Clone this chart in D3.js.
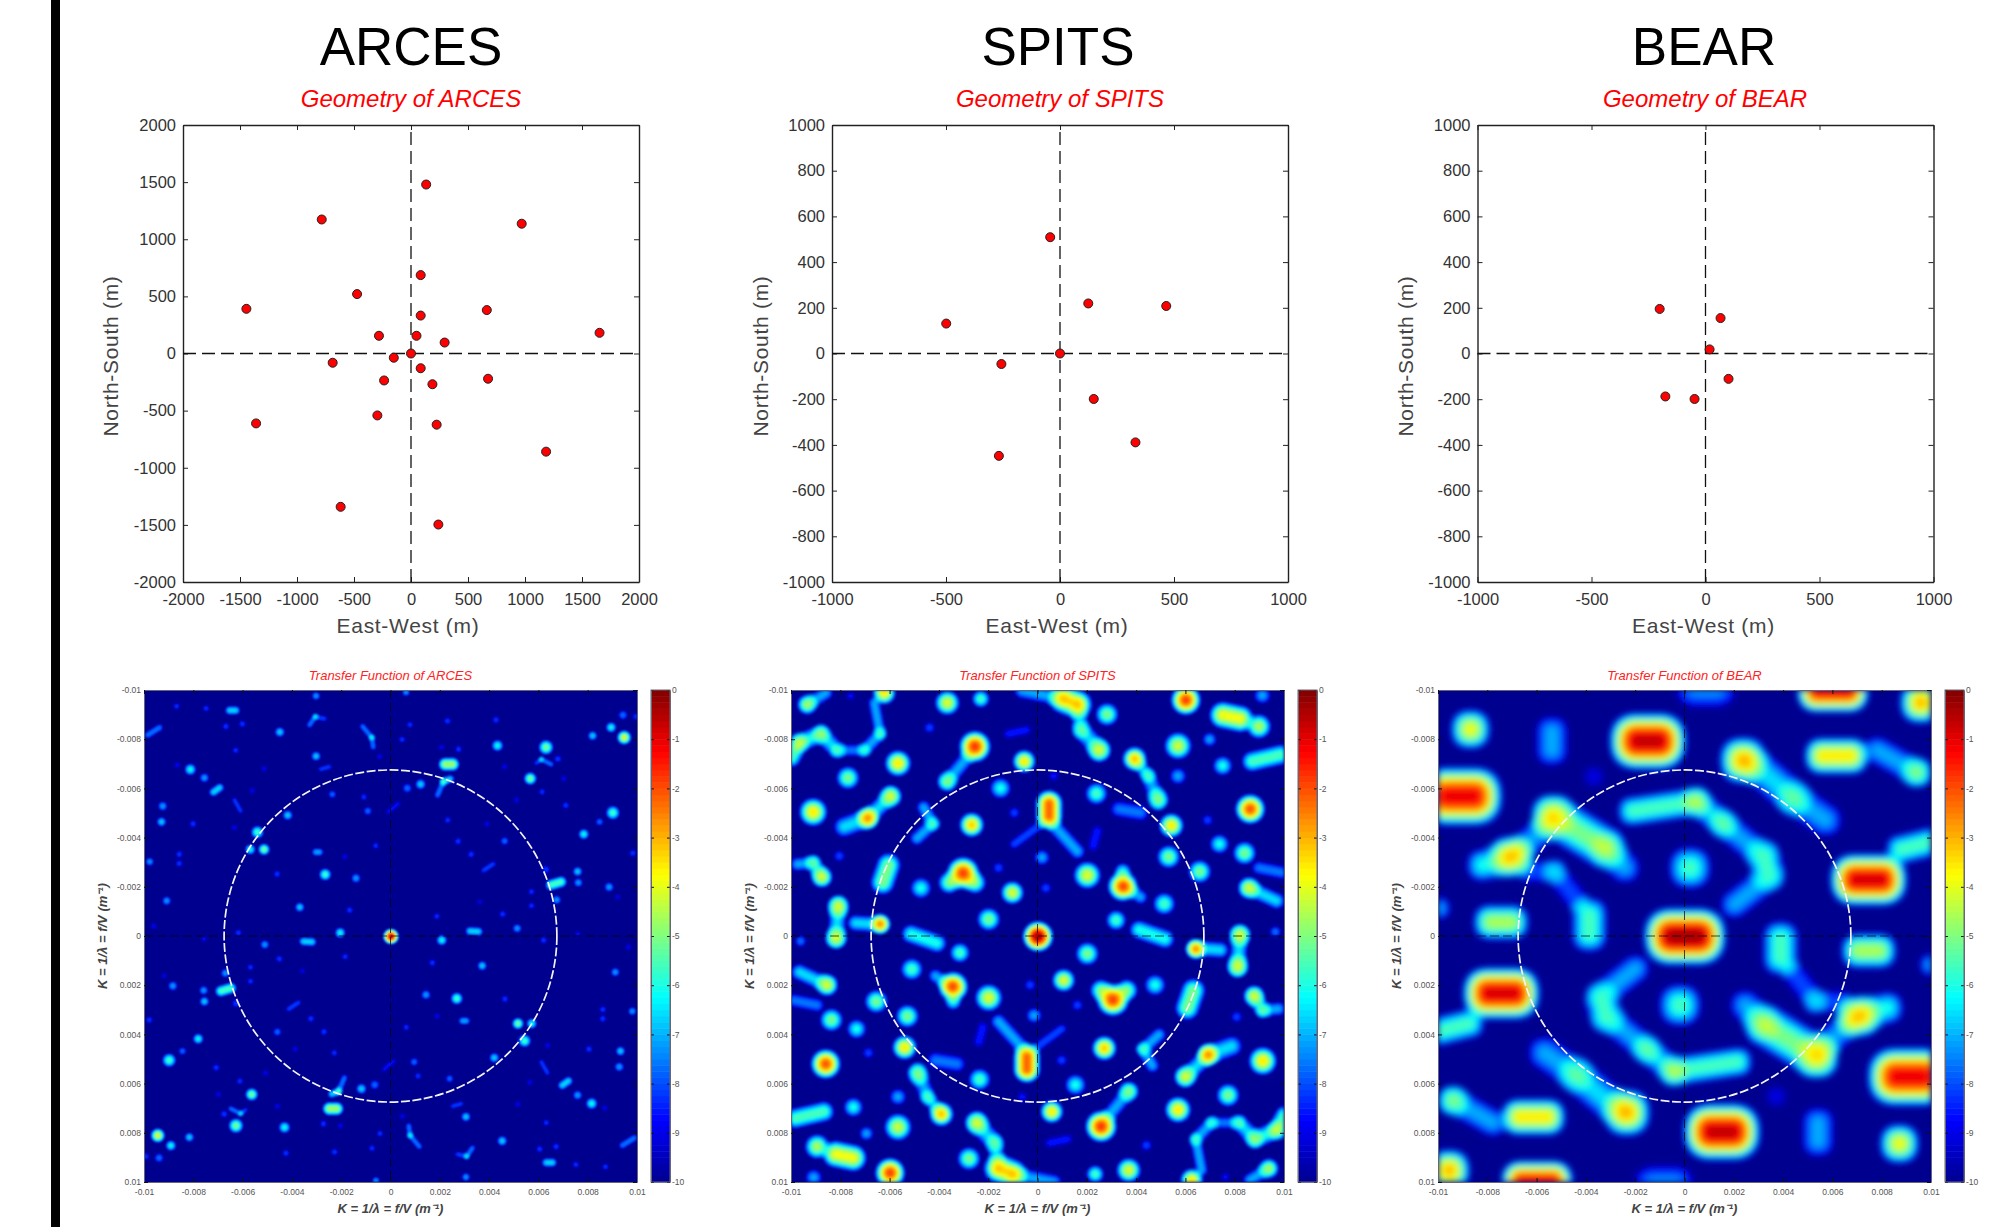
<!DOCTYPE html>
<html>
<head>
<meta charset="utf-8">
<style>
    body { margin: 0; background: #fff; font-family: "Liberation Sans", Arial, sans-serif; }
    svg { display: block; }
    .tick line { stroke: #222; }
    .geo .tick text { font-size: 16.5px; fill: #333; }
    .geo .domain { stroke: #222; stroke-width: 1.4; fill: none; }
    .heat .tick text { font-size: 8.5px; fill: #555; }
    .heat .domain { stroke: #667; stroke-width: 1; fill: none; }
    .heat .tick line { stroke: #111; }
</style>
</head>
<body>
<svg id="viz" width="2004" height="1227"></svg>

<script src="https://cdnjs.cloudflare.com/ajax/libs/d3/7.8.5/d3.min.js"></script>
<script>
// station coordinates, metres [east, north]
var arcesStations = [[133,1479],[-783,1173],[971,1136],[85,686],[-473,520],[-1444,391],[665,380],[85,332],[1654,181],[-281,155],[48,155],[295,96],[0,0],[-151,-37],[-687,-81],[85,-129],[-236,-236],[188,-269],[676,-221],[-295,-542],[225,-623],[-1359,-612],[1185,-859],[-617,-1342],[240,-1497]];
var spitsStations = [[-43,509],[124,219],[466,208],[-499,131],[0,0],[-257,-46],[148,-199],[331,-389],[-268,-448]];
var bearStations = [[-201,195],[66,155],[18,18],[101,-111],[-176,-188],[-48,-199]];

var arcesTicks = [-2000,-1500,-1000,-500,0,500,1000,1500,2000];
var kiloTicksX = [-1000,-500,0,500,1000];
var kiloTicksY = [-1000,-800,-600,-400,-200,0,200,400,600,800,1000];

// wavenumber axes, labelled in 1/m; the peaks below are in units of 0.001 1/m
var kTicks = [-10,-8,-6,-4,-2,0,2,4,6,8,10];
var kLabels = ["-0.01","-0.008","-0.006","-0.004","-0.002","0","0.002","0.004","0.006","0.008","0.01"];
var dbTicks = [0,-1,-2,-3,-4,-5,-6,-7,-8,-9,-10];
var dbLevels = d3.range(-10, 0, 0.125);
var circleRadius = 6.75;

// A transfer function is point symmetric around k=0, so only the upper half plane is listed.
// spots: [kx, ky, peak dB, radius]   ridges: [kx1, ky1, kx2, ky2, peak dB, radius]
var arcesMain = [[0,0,0,0,-0.6,0.27]];
var arcesSpots = [
    [9.46,-8.09,-4,.25],[8.93,-8.5,-6,.18],[9.41,-9,-7.5,.16],[8.18,-8.16,-6.5,.16],[6.29,-7.69,-5,.26],[5.65,-6.42,-5,.22],
    [4.32,-7.76,-6,.2],[9,-5.03,-5.5,.24],[8.46,-4.66,-7.5,.13],[7.82,-4.16,-6,.18],[7.57,-2.64,-6.5,.16],[7.6,-2.19,-7,.15],
    [6.72,-1.49,-7,.15],[8.85,-2.01,-7,.16],[6.29,-2.72,-8,.14],[1.2,-6.19,-6.5,.18],[.66,-6.03,-7.5,.16],[-2.38,-5.78,-7.5,.13],
    [-.94,-5.1,-7.5,.14],[-4.19,-4.93,-6.5,.17],[-5.42,-4.24,-5.5,.22],[-5.71,-3.54,-6,.18],[-5.15,-3.54,-5,.2],[-9.31,-4.66,-6.5,.16],
    [-9.26,-5.3,-7,.16],[-8.14,-6.79,-6,.2],[-7.57,-6.45,-7,.16],[-3.04,-7.33,-6.5,.16],[-4.51,-8.31,-6.5,.17],[-3.04,-9.78,-7,.14],
    [-2.67,-2.52,-5.5,.21],[-1.42,-2.37,-7,.16],[-3.7,-1.19,-6.5,.16],[-1.68,-1.07,-8,.12],[-2.06,-.15,-6,.18],[-9.1,-1.45,-7,.15],
    [5.12,-.33,-7,.15],[1.86,-.82,-8,.11],[4.53,-.91,-8,.12],[4.61,-3.88,-7.5,.14],[2.72,-3.87,-8,.12],[2.3,-4.73,-8,.11],
    [3.25,-3.34,-8,.12],[5.7,-1.82,-8,.11],[5.7,-1.25,-8,.11],[-6.19,-.15,-8,.12],[-9.79,-3.04,-7,.14],[-8.59,-2.97,-8,.12],
    [-8.59,-3.34,-8,.12],[-4.62,-2.54,-8,.12],[-.62,-3.69,-8,.11],[-1.87,-3.24,-8.5,.1],[9.81,-3.39,-8,.12],[7.09,-5.33,-8,.12],
    [6.13,-5.88,-8,.11],[5.09,-5.55,-8.5,.1],[3.89,-4.58,-8.5,.1],[7,-6.42,-8.5,.1],[6.77,-7.22,-8,.13],[4.61,-6.9,-8.5,.1],
    [2.74,-7.61,-8,.12],[2.05,-7.69,-8.5,.1],[2.29,-8.76,-8,.12],[4.26,-8.81,-8,.12],[.77,-8.61,-8,.11],[.45,-8.01,-8,.11],
    [.61,-9.93,-7,.13],[-.46,-7.31,-8.5,.1],[-5.15,-6.82,-8.5,.1],[-6.3,-7.57,-8,.11],[-6.03,-8.64,-8,.12],[-6.7,-8.54,-8,.12],
    [-7.5,-9.27,-8,.11],[-8.7,-9.36,-8,.11],[-8.67,-6.97,-8.5,.1],[-5.63,-5.93,-8.5,.1],[-1.1,-5.67,-8,.11],[-8.03,-4.58,-8,.12],
    [-6.35,-4.43,-8.5,.1],[9.94,-8.94,-8,.12],[-9.63,-.43,-8.5,.1],[7.58,-.1,-8.5,.1],[9.2,-1.6,-8.7,.1],[3.6,-1.4,-8.7,.1]
];
var arcesRidges = [
    [2.2,-7,2.5,-7,-4.6,.24],[6.5,-2.1,6.9,-2.22,-5.5,.2],[2.13,-6.3,1.89,-5.75,-7.5,.11],[2.13,-6.3,2.4,-6.4,-6.5,.14],
    [-7.2,-5.87,-6.95,-6.05,-6.5,.15],[-6.55,-9.19,-6.3,-9.19,-6.5,.15],[-9.87,-8.19,-9.39,-8.49,-7.5,.12],[-1.15,-8.54,-.78,-8.09,-7.5,.1],
    [-.78,-8.09,-.72,-7.7,-7.5,.1],[-3.05,-3.43,-2.9,-3.43,-7,.13],[3.2,-.22,3.55,-.2,-6.5,.15],[-.11,-5.06,.29,-5.4,-8.5,.08],
    [-3.3,-8.6,-3.07,-8.94,-7.5,.1],[-3.07,-8.94,-2.7,-8.85,-8,.09],[3.76,-2.69,4.15,-2.95,-8,.09],[-6.35,-5.55,-6.1,-5.1,-8,.08],
    [-2.85,-6.8,-2.5,-6.9,-8,.08],[6.5,-7,6.1,-7.2,-7.5,.09],[6.1,-7.2,5.9,-7.05,-8,.08]
];

var spitsMain = [[0,0,0,0,-0.3,.56]];
var spitsSpots = [
    [6,-9.61,-1.8,.55],[2.8,-9.03,-5,.42],[5.68,-7.75,-4.2,.5],[6.96,-8.01,-7,.25],[8.96,-8.54,-4.5,.45],[9.1,-9.8,-7,.3],
    [7.49,-6.94,-6,.35],[5.68,-6.52,-7,.3],[3.92,-7.22,-3.5,.45],[8.61,-5.18,-2,.55],[5.41,-4.51,-3.5,.45],[5.3,-3.24,-5,.42],
    [2.37,-5.81,-5.5,.4],[.64,-6.52,-8.5,.18],[.16,-3.21,-7,.28],[-.56,-7.12,-3.5,.42],[-1.52,-6.03,-6,.38],[-2.56,-7.72,-1.7,.58],
    [-5.68,-7.04,-3.5,.48],[-7.71,-6.45,-5,.42],[-9.12,-5.06,-3.5,.52],[-6.91,-4.81,-3.5,.42],[-2.69,-4.54,-3.2,.45],[-.96,-5.03,-8,.2],
    [-3.04,-2.57,-1.8,.6],[-3.6,-2.19,-5,.4],[-2.56,-2.19,-5,.4],[3.44,-2.04,-2,.55],[3.44,-2.64,-6,.3],[2,-2.49,-4,.5],
    [-1.6,-2.79,-8,.2],[.32,-1.97,-8,.2],[-1.04,-1.78,-4,.42],[-4.75,-1.97,-6,.38],[-2,-.7,-5,.42],[3.17,-.66,-5.5,.36],
    [5.12,-1.33,-5.5,.4],[6.56,-2.64,-5,.42],[8.56,-1.97,-5,.42],[8.38,-3.39,-5,.42],[7.36,-3.76,-6,.35],[6.88,-4.73,-8,.2],
    [-8.06,-3.27,-8,.2],[-8.77,-2.42,-5,.4],[-6.4,-.51,-3,.38],[9.63,-.19,-7.5,.2],[-9.36,-9.43,-5.5,.38],[-6.24,-9.9,-3.5,.42],
    [-3.68,-9.5,-4,.45],[-2.32,-9.66,-5.5,.32],[-4.4,-8.49,-8,.2],[-7.6,-9.78,-8.5,.15],
    [2.48,-7.57,-5,.45],[4.88,-5.6,-6,.4],[-3.68,-6.3,-6,.38],[-5.98,-5.7,-5,.42],[-8.1,-1.2,-5,.42],[-8.19,.05,-5,.42]
];
var spitsRidges = [
    [1.04,-9.66,1.6,-9.43,-3.5,.55],[-.64,-10,1.04,-9.66,-7,.3],[1.6,-9.43,1.76,-8.39,-7,.3],[1.76,-8.39,2.48,-7.6,-6.5,.36],
    [7.5,-9,8.2,-8.85,-3.8,.5],[3.92,-7.22,4.48,-6.52,-7,.25],[4.48,-6.52,4.88,-5.48,-7,.3],[8.69,-7.12,9.84,-7.39,-5.5,.38],
    [3.28,-5.18,4.16,-5.03,-7.5,.3],[.45,-5.4,.45,-4.9,-2.2,.5],[.64,-4.51,1.6,-3.46,-7,.28],[-2.88,-7.27,-3.68,-6.3,-7,.28],
    [-7.86,-4.46,-6.91,-4.81,-6.5,.38],[-6.91,-4.81,-5.98,-5.7,-6.5,.32],[-4.64,-5.25,-4.27,-4.58,-7,.25],[-4.27,-4.58,-4.91,-3.99,-7,.25],
    [-.96,-3.76,.16,-4.58,-8,.18],[2.4,-4.28,2.24,-3.69,-8.5,.2],[3.6,-2,4.16,-1.6,-7,.25],[8.56,-1.97,9.68,-1.45,-6.5,.3],
    [8.96,-2.79,9.9,-2.6,-7.5,.25],[-6.06,-2.9,-6.3,-2.2,-5,.45],[-9.76,-2.94,-9.12,-3,-7,.25],[-9.12,-3,-8.77,-2.42,-6.5,.3],
    [-8.1,-1.3,-8.19,.1,-6.5,.32],[-7.4,-.55,-6.4,-.48,-6.5,.3],[-5.15,-.1,-4.1,.27,-6,.35],[-10,-7.27,-9.68,-7.87,-5.5,.35],
    [-9.68,-7.87,-8.8,-8.24,-6,.35],[-8.8,-8.24,-8.16,-7.57,-6.5,.32],[-8.16,-7.57,-7.04,-7.57,-7.5,.22],[-7.04,-7.57,-6.4,-8.24,-7,.25],
    [-6.4,-8.24,-6.64,-9.49,-7,.22],[-9.36,-9.43,-8.6,-9.9,-7,.25],[-1.2,-8.24,-.48,-8.39,-8.5,.18]
];

var bearMain = [[-.5,0,.5,0,-.3,1.15]];
var bearSpots = [
    [-8.7,-8.42,-3.8,.8],[2.36,-7.16,-3,.95],[9.4,-6.67,-6,.6],[-7.08,-3.24,-3.7,.85],[-5.33,-4.88,-5,.85],
    [.2,-2.79,-5.5,.85],[-9.97,-1.15,-7,.45],[-3.7,-6.5,-9,.45],[9.57,-9.51,-3,.85]
];
var bearRidges = [
    [-1.9,-7.94,-1.1,-7.94,-.6,1.15],[-9.6,-5.7,-8.6,-5.7,-1,1.18],[6.95,-2.31,7.95,-2.31,-.8,1.05],[5.4,-9.96,6.6,-9.96,-1.3,.85],
    [-5.4,-8.3,-5.4,-7.6,-7,.65],[3,-6.82,4.4,-5.63,-6.5,.7],[4.4,-5.63,5.7,-4.73,-7,.65],[5.6,-7.34,6.7,-7.34,-3.5,.75],
    [7.8,-7.57,9.4,-6.67,-7,.55],[-7.86,-.58,-7.06,-.58,-4.5,.72],[-3.88,-.85,-3.88,-.1,-5.5,.72],[-8.2,-2.9,-6.8,-3.3,-6,.65],
    [-6.5,-3.7,-5.6,-4.5,-7,.55],[-5.33,-4.88,-3.25,-3.61,-5,.85],[-3.25,-3.61,-2.44,-2.79,-7,.6],[-6.3,-2.64,-5.3,-2.64,-8,.45],
    [-5.3,-2.64,-4.36,-1.45,-8,.45],[-2.12,-5.1,.44,-5.48,-5.5,.6],[.44,-5.5,1.56,-4.58,-6.5,.55],[1.56,-4.58,3.2,-3.24,-7,.55],
    [3.2,-3.24,3.4,-2.6,-7,.7],[3.4,-2.4,2,-1.3,-7,.55],[.5,-10.2,1.2,-10.2,-7,.9],[8.76,-3.54,9.96,-3.84,-5.5,.6]
];

var svg = d3.select("#viz");
svg.append("defs");

// left border bar
svg.append("rect").attr("x", 51).attr("y", 0).attr("width", 9).attr("height", 1227).attr("fill", "#000");

var jet = d3.scaleLinear()
    .domain([-10, -8.75, -6.25, -3.75, -1.25, 0])
    .range(["#00008f", "#0000ff", "#00ffff", "#ffff00", "#ff0000", "#800000"])
    .clamp(true);

function geometryPanel(name, stations, left, xTicks, yTicks, centers) {
    var right = left + 456, top = 125, bottom = 582;
    var domainMax = xTicks[xTicks.length - 1];
    var x = d3.scaleLinear().domain([-domainMax, domainMax]).range([left, right]);
    var y = d3.scaleLinear().domain([-domainMax, domainMax]).range([bottom, top]);
    var g = svg.append("g").attr("class", "geo");

    g.append("text").text(name)
        .attr("x", centers.title).attr("y", 65)
        .attr("text-anchor", "middle").attr("font-size", 53).attr("fill", "#000");
    g.append("text").text("Geometry of " + name)
        .attr("x", centers.sub).attr("y", 107)
        .attr("text-anchor", "middle").attr("font-size", 24).attr("font-style", "italic").attr("fill", "#f00");

    g.append("g").attr("transform", "translate(0," + bottom + ")")
        .call(d3.axisBottom(x).tickValues(xTicks).tickSizeInner(-5).tickSizeOuter(0).tickPadding(11).tickFormat(String));
    g.append("g").attr("transform", "translate(" + left + ",0)")
        .call(d3.axisLeft(y).tickValues(yTicks).tickSizeInner(-5).tickSizeOuter(0).tickPadding(7).tickFormat(String));
    g.append("g").attr("transform", "translate(0," + top + ")")
        .call(d3.axisTop(x).tickValues(xTicks).tickSizeInner(-5).tickSizeOuter(0).tickFormat(""));
    g.append("g").attr("transform", "translate(" + right + ",0)")
        .call(d3.axisRight(y).tickValues(yTicks).tickSizeInner(-5).tickSizeOuter(0).tickFormat(""));

    g.append("line").attr("x1", x(-domainMax)).attr("x2", x(domainMax)).attr("y1", y(0)).attr("y2", y(0))
        .attr("stroke", "#111").attr("stroke-width", 1.3).attr("stroke-dasharray", "13,6");
    g.append("line").attr("y1", y(-domainMax)).attr("y2", y(domainMax)).attr("x1", x(0)).attr("x2", x(0))
        .attr("stroke", "#111").attr("stroke-width", 1.3).attr("stroke-dasharray", "13,6");

    g.selectAll("circle").data(stations).join("circle")
        .attr("cx", function(d) { return x(d[0]); })
        .attr("cy", function(d) { return y(d[1]); })
        .attr("r", 4.5)
        .attr("fill", "#f00")
        .attr("stroke", "#222")
        .attr("stroke-width", 1);

    g.append("text").text("East-West (m)")
        .attr("x", centers.east).attr("y", 633)
        .attr("text-anchor", "middle").attr("font-size", 21).attr("letter-spacing", 0.7).attr("fill", "#444");
    g.append("text").text("North-South (m)")
        .attr("transform", "translate(" + centers.north + ",356) rotate(-90)")
        .attr("text-anchor", "middle").attr("font-size", 21).attr("letter-spacing", 0.7).attr("fill", "#444");
}

function transferPanel(name, main, spots, ridges, left, look) {
    var right = left + 493, top = 690, bottom = 1182;
    var w = right - left, h = bottom - top;
    var x = d3.scaleLinear().domain([-10, 10]).range([left, right]);
    var y = d3.scaleLinear().domain([-10, 10]).range([top, bottom]);
    var g = svg.append("g").attr("class", "heat");

    // collect every lobe as a segment, with its mirror image
    var lobes = main.slice();
    spots.forEach(function(d) {
        lobes.push([d[0], d[1], d[0], d[1], d[2], d[3]]);
        lobes.push([-d[0], -d[1], -d[0], -d[1], d[2], d[3]]);
    });
    ridges.forEach(function(d) {
        lobes.push(d);
        lobes.push([-d[0], -d[1], -d[2], -d[3], d[4], d[5]]);
    });

    var power = new Float64Array(w * h);
    lobes.forEach(function(s) {
        var r = s[5] * look.spread;
        var i0 = Math.max(0, Math.floor(x(Math.min(s[0], s[2]) - r) - left));
        var i1 = Math.min(w - 1, Math.ceil(x(Math.max(s[0], s[2]) + r) - left));
        var j0 = Math.max(0, Math.floor(y(Math.min(s[1], s[3]) - r) - top));
        var j1 = Math.min(h - 1, Math.ceil(y(Math.max(s[1], s[3]) + r) - top));
        var dx = s[2] - s[0], dy = s[3] - s[1], len2 = dx * dx + dy * dy;
        for (var j = j0; j <= j1; j++) {
            var ky = y.invert(j + top);
            for (var i = i0; i <= i1; i++) {
                var kx = x.invert(i + left);
                var t = len2 ? Math.max(0, Math.min(1, ((kx - s[0]) * dx + (ky - s[1]) * dy) / len2)) : 0;
                var ex = Math.abs(kx - s[0] - t * dx), ey = Math.abs(ky - s[1] - t * dy);
                var q = Math.pow(Math.pow(ex, look.norm) + Math.pow(ey, look.norm), 2 / look.norm) / (r * r);
                if (q < 1) {
                    var db = s[4] - (10 + s[4]) * q;
                    power[j * w + i] += Math.pow(10, db / 5);
                }
            }
        }
    });
    var field = Array.from(power, function(p) { return p > 0.01 ? 5 * Math.log10(p) : -10; });

    var clipId = "clip-" + name;
    g.append("clipPath").attr("id", clipId).append("rect")
        .attr("x", left).attr("y", top).attr("width", w).attr("height", h);
    svg.select("defs").append("filter").attr("id", "soft-" + name)
        .attr("x", "-5%").attr("y", "-5%").attr("width", "110%").attr("height", "110%")
        .append("feGaussianBlur").attr("stdDeviation", look.blur);

    var map = g.append("g").attr("clip-path", "url(#" + clipId + ")");
    map.append("rect").attr("x", left).attr("y", top).attr("width", w).attr("height", h).attr("fill", jet(-10));
    var contours = d3.contours().size([w, h]).thresholds(dbLevels)(field);
    map.append("g").attr("transform", "translate(" + left + "," + top + ")").attr("filter", "url(#soft-" + name + ")")
        .selectAll("path").data(contours.slice(1)).join("path")
        .attr("d", d3.geoPath())
        .attr("fill", function(d) { return jet(d.value + 0.06); });

    // crosshair and the dashed circle
    map.append("line").attr("x1", left).attr("x2", right).attr("y1", y(0)).attr("y2", y(0))
        .attr("stroke", "#000").attr("stroke-opacity", 0.7).attr("stroke-dasharray", "9,4");
    map.append("line").attr("x1", x(0)).attr("x2", x(0)).attr("y1", top).attr("y2", bottom)
        .attr("stroke", "#000").attr("stroke-opacity", 0.7).attr("stroke-dasharray", "9,4");
    map.append("ellipse")
        .attr("cx", x(0)).attr("cy", y(0))
        .attr("rx", x(circleRadius) - x(0)).attr("ry", y(circleRadius) - y(0))
        .attr("fill", "none").attr("stroke", "#f4f4f4").attr("stroke-width", 1.7).attr("stroke-dasharray", "9,2.5");

    var fmt = function(d, i) { return kLabels[i]; };
    g.append("g").attr("transform", "translate(0," + bottom + ")")
        .call(d3.axisBottom(x).tickValues(kTicks).tickSizeInner(-4).tickSizeOuter(0).tickPadding(7).tickFormat(fmt));
    g.append("g").attr("transform", "translate(" + left + ",0)")
        .call(d3.axisLeft(y).tickValues(kTicks).tickSizeInner(-4).tickSizeOuter(0).tickPadding(3).tickFormat(fmt));
    g.append("g").attr("transform", "translate(0," + top + ")")
        .call(d3.axisTop(x).tickValues(kTicks).tickSizeInner(-4).tickSizeOuter(0).tickFormat(""));
    g.append("g").attr("transform", "translate(" + right + ",0)")
        .call(d3.axisRight(y).tickValues(kTicks).tickSizeInner(-4).tickSizeOuter(0).tickFormat(""));

    g.append("text").text("Transfer Function of " + name)
        .attr("x", x(0)).attr("y", 680)
        .attr("text-anchor", "middle").attr("font-size", 13).attr("font-style", "italic").attr("fill", "#f22");
    g.append("text").text("K = 1/\u03bb = f/V (m\u207b\u00b9)")
        .attr("x", x(0)).attr("y", 1213)
        .attr("text-anchor", "middle").attr("font-size", 13).attr("font-style", "italic").attr("font-weight", "bold").attr("fill", "#444");
    g.append("text").text("K = 1/\u03bb = f/V (m\u207b\u00b9)")
        .attr("transform", "translate(" + (left - 37) + "," + y(0) + ") rotate(-90)")
        .attr("text-anchor", "middle").attr("font-size", 13).attr("font-style", "italic").attr("font-weight", "bold").attr("fill", "#444");

    // colour bar
    var barLeft = right + 14, barWidth = 19;
    var db = d3.scaleLinear().domain([0, -10]).range([top, bottom]);
    g.append("g").selectAll("rect").data(dbLevels).join("rect")
        .attr("x", barLeft).attr("width", barWidth)
        .attr("y", function(d) { return db(d + 0.125); })
        .attr("height", function(d) { return db(d) - db(d + 0.125) + 0.5; })
        .attr("fill", function(d) { return jet(d + 0.06); });
    g.append("g").attr("transform", "translate(" + (barLeft + barWidth) + ",0)")
        .call(d3.axisRight(db).tickValues(dbTicks).tickSizeInner(-3).tickSizeOuter(0).tickPadding(2).tickFormat(String));
    g.append("g").attr("transform", "translate(" + barLeft + ",0)")
        .call(d3.axisLeft(db).tickValues(dbTicks).tickSizeInner(-3).tickSizeOuter(0).tickFormat(""));
    g.append("rect").attr("x", barLeft).attr("y", top).attr("width", barWidth).attr("height", bottom - top)
        .attr("fill", "none").attr("stroke", "#667");
}

geometryPanel("ARCES", arcesStations, 183, arcesTicks, arcesTicks, {title: 411, sub: 411, east: 408, north: 118});
geometryPanel("SPITS", spitsStations, 832, kiloTicksX, kiloTicksY, {title: 1058, sub: 1060, east: 1057, north: 768});
geometryPanel("BEAR", bearStations, 1477.5, kiloTicksX, kiloTicksY, {title: 1704, sub: 1705, east: 1703.5, north: 1413});

transferPanel("ARCES", arcesMain, arcesSpots, arcesRidges, 144, {spread: 1.2, blur: 1, norm: 2});
transferPanel("SPITS", spitsMain, spitsSpots, spitsRidges, 791, {spread: 1.15, blur: 1.6, norm: 2});
transferPanel("BEAR", bearMain, bearSpots, bearRidges, 1438, {spread: 1.05, blur: 3, norm: 2.4});
</script>
</body>
</html>
